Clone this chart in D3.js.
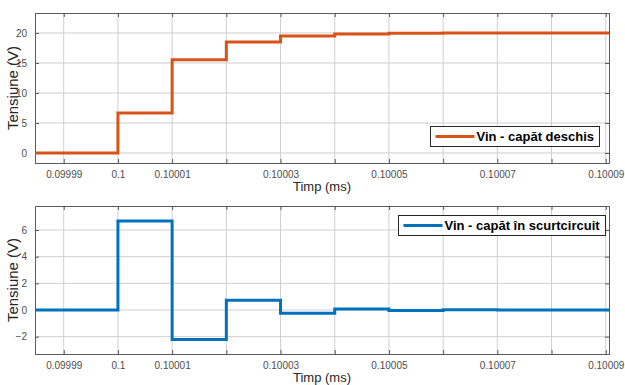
<!DOCTYPE html>
<html>
<head>
<meta charset="utf-8">
<script src="https://cdn.jsdelivr.net/npm/d3@7"></script>
<style>
  html, body { margin: 0; padding: 0; background: #fff; }
  svg { display: block; font-family: Arial, "Liberation Sans", sans-serif; }
  .tick text { fill: #4d4d4d; font-size: 10px; }
  .axis-label { fill: #262626; }
  .legend-text { font-weight: bold; font-size: 13px; fill: #000; }
</style>
</head>
<body>
<div id="chart"></div>
<script>
// Segment start times (ms); last entry closes the final segment at the axis edge
const times = [0.0999847, 0.1, 0.10001, 0.10002, 0.10003, 0.10004, 0.10005, 0.10006, 0.10007, 0.10008, 0.10009, 0.1000906];

// Vin, open end (V)
const vOpen  = [0, 6.67, 15.55, 18.5, 19.5, 19.83, 19.95, 19.98, 19.99, 20.0, 20.0, 20.0];
// Vin, short-circuited end (V)
const vShort = [0, 6.67, -2.22, 0.74, -0.25, 0.08, -0.03, 0.01, 0.0, 0.0, 0.0, 0.0];

const xGrid   = [0.09999, 0.1, 0.10001, 0.10002, 0.10003, 0.10004, 0.10005, 0.10006, 0.10007, 0.10008, 0.10009];
const xLabels = [0.09999, 0.1, 0.10001, 0.10003, 0.10005, 0.10007, 0.10009];
const yTicksTop = [0, 5, 10, 15, 20];
const yTicksBot = [-2, 0, 2, 4, 6];

const W = 625, H = 385;
const svg = d3.select('#chart').append('svg').attr('width', W).attr('height', H);

function drawPanel(cfg) {
  const { top, bottom, yDomain, yTicks, values, color, legend, legendBox } = cfg;
  const left = 35, right = 609;
  const x = d3.scaleLinear().domain([times[0], times[times.length - 1]]).range([left, right]);
  const y = d3.scaleLinear().domain(yDomain).range([bottom, top]);
  const g = svg.append('g');

  // grid
  g.append('g').selectAll('line').data(xGrid).join('line')
    .attr('x1', d => x(d)).attr('x2', d => x(d))
    .attr('y1', top).attr('y2', bottom)
    .attr('stroke', '#cfcfcf').attr('stroke-width', 1);
  g.append('g').selectAll('line').data(yTicks).join('line')
    .attr('x1', left).attr('x2', right)
    .attr('y1', d => y(d)).attr('y2', d => y(d))
    .attr('stroke', '#cfcfcf').attr('stroke-width', 1);

  // axes (inside ticks, box on)
  const xAxis = g.append('g').attr('transform', `translate(0,${bottom})`)
    .call(d3.axisBottom(x).tickValues(xGrid).tickSize(-4).tickPadding(8)
      .tickFormat(d => xLabels.includes(d) ? String(d) : ''));
  const xTop = g.append('g').attr('transform', `translate(0,${top})`)
    .call(d3.axisTop(x).tickValues(xGrid).tickSize(-4).tickFormat(''));
  const yAxis = g.append('g').attr('transform', `translate(${left},0)`)
    .call(d3.axisLeft(y).tickValues(yTicks).tickSize(-4).tickPadding(8));
  const yRight = g.append('g').attr('transform', `translate(${right},0)`)
    .call(d3.axisRight(y).tickValues(yTicks).tickSize(-4).tickFormat(''));
  [xAxis, xTop, yAxis, yRight].forEach(a => {
    a.select('.domain').attr('stroke', '#5a5a5a');
    a.selectAll('.tick line').attr('stroke', '#5a5a5a');
  });

  // step line
  const pts = times.map((t, i) => [t, values[i]]);
  g.append('path').datum(pts)
    .attr('fill', 'none').attr('stroke', color).attr('stroke-width', 3)
    .attr('d', d3.line().x(d => x(d[0])).y(d => y(d[1])).curve(d3.curveStepAfter));

  // labels
  g.append('text').attr('class', 'axis-label')
    .attr('transform', `translate(18,${(top + bottom) / 2}) rotate(-90)`)
    .attr('text-anchor', 'middle').style('font-size', '15px')
    .text('Tensiune (V)');
  g.append('text').attr('class', 'axis-label')
    .attr('x', (left + right) / 2).attr('y', bottom + 28)
    .attr('text-anchor', 'middle').style('font-size', '13px')
    .text('Timp (ms)');

  // legend
  const [lx0, ly0, lx1, ly1] = legendBox;
  const lg = g.append('g');
  lg.append('rect').attr('x', lx0).attr('y', ly0)
    .attr('width', lx1 - lx0).attr('height', ly1 - ly0)
    .attr('fill', '#fff').attr('stroke', '#262626').attr('stroke-width', 1);
  lg.append('line').attr('x1', lx0 + 5).attr('x2', lx0 + 44)
    .attr('y1', (ly0 + ly1) / 2).attr('y2', (ly0 + ly1) / 2)
    .attr('stroke', color).attr('stroke-width', 3);
  lg.append('text').attr('class', 'legend-text')
    .attr('x', lx0 + 46).attr('y', (ly0 + ly1) / 2 + 4.5)
    .text(legend);
}

drawPanel({
  top: 13, bottom: 163, yDomain: [-1.67, 23.33], yTicks: yTicksTop,
  values: vOpen, color: '#D95319', legend: 'Vin - capăt deschis',
  legendBox: [430.5, 126.5, 599.5, 146.5]
});
drawPanel({
  top: 206, bottom: 354, yDomain: [-3.3, 7.8], yTicks: yTicksBot,
  values: vShort, color: '#0072BD', legend: 'Vin - capăt în scurtcircuit',
  legendBox: [398.5, 215.5, 605.5, 235.5]
});
</script>
</body>
</html>
